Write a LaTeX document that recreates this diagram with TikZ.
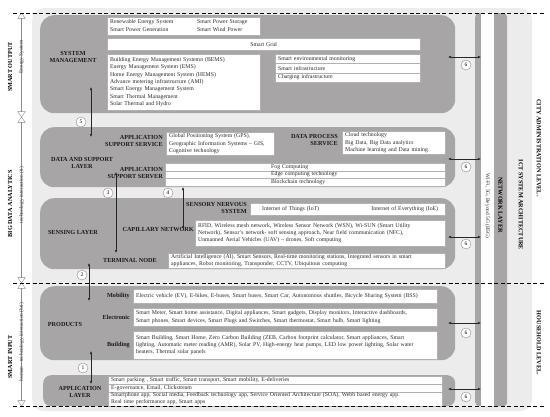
\documentclass[tikz,border=0pt]{standalone}
\usepackage{fontspec}
\setmainfont{Liberation Serif}
\usepackage{xcolor}
\usetikzlibrary{positioning,arrows.meta,shapes.arrows}

\definecolor{laygrey}{HTML}{A8A5A6}
\definecolor{bggrey}{HTML}{ECECEC}
\definecolor{txtgrey}{HTML}{2A2A2A}
\newcommand{\smallfs}{\fontsize{5.8}{7.3}\selectfont}
\newcommand{\labfs}{\fontsize{6.2}{7.6}\selectfont\bfseries}
\newcommand{\sidefs}{\fontsize{5.4}{6}\selectfont}

\begin{document}
\begin{tikzpicture}[x=1pt, y=-1pt,
  panel/.style={rectangle, rounded corners=12pt, fill=bggrey, anchor=north west, inner sep=0pt},
  layer/.style={rectangle, rounded corners=14pt, fill=laygrey, anchor=north west, inner sep=0pt},
  tbox/.style={rectangle, draw=black!30, line width=0.3pt, fill=white, anchor=north west,
               align=left, inner xsep=3pt, inner ysep=0.5pt, font=\smallfs, text=txtgrey},
  lab/.style={font=\labfs, text=black!90, inner sep=0pt},
  side/.style={font=\labfs, rotate=90, inner sep=0pt},
  sidesm/.style={font=\sidefs, text=black!75, rotate=90, inner sep=0pt},
  rside/.style={font=\labfs, rotate=-90, inner sep=0pt},
  rsidesm/.style={font=\sidefs, text=black!80, rotate=-90, inner sep=0pt},
  span/.style={double arrow, draw=black!45, fill=white, line width=0.4pt, rotate=90,
               minimum width=7.5pt, double arrow head extend=2.5pt, double arrow tip angle=70, inner sep=0pt},
  num/.style={circle, draw=black!45, fill=white, line width=0.4pt, minimum size=10pt, inner sep=0pt,
              font=\fontsize{5.5}{6}\selectfont},
  arr/.style={{Latex[length=3pt,width=2.4pt]}-{Latex[length=3pt,width=2.4pt]}, line width=0.45pt, black!85},
  sep/.style={dashed, dash pattern=on 4pt off 2.5pt, line width=1pt},
]
\useasboundingbox (0,0) rectangle (550,416);

\node[panel, minimum width=500, minimum height=403] (bg) at (32,8) {};

% left spans
\node[span, minimum height=104] (spout) at (21.5,65) {};
\node[span, minimum height=166] (spbda) at (21.5,200) {};
\node[span, minimum height=123] (spin)  at (21.5,344.5) {};
\node[side]   (outlab) at (10,67)  {SMART OUTPUT};
\node[side]   (bdalab) at (10,204) {BIG DATA ANALYTICS};
\node[side]   (inlab)  at (10,357) {SMART INPUT};
\node[sidesm] (enlab)  at (21.5,57)  {Energy System};
\node[sidesm] (tilab)  at (21.5,195) {technology interaction (ti)};
\node[sidesm] (htilab) at (21.5,342) {human - technology interaction (hti)};

% layers
\node[layer, minimum width=415, minimum height=98] (sysm) at (40,15)  {};
\node[layer, minimum width=415, minimum height=60] (dsl)  at (40,127) {};
\node[layer, minimum width=415, minimum height=71] (sens) at (40,198) {};
\node[layer, minimum width=415, minimum height=74] (prod) at (40,286) {};
\node[layer, minimum width=412, minimum height=31, rounded corners=8pt] (appl) at (43,375) {};

\node[layer, rounded corners=4pt, minimum width=32, minimum height=393] (net) at (475,13) {};
\node[rectangle, fill=white, anchor=north west, inner sep=0pt, minimum width=13, minimum height=393] (wifi) at (481,13) {};

% system management
\node[tbox, text width=147, minimum height=18] (renew) at (107,17)
  {\begin{tabular}{@{}p{87pt}@{}l@{}}Renewable Energy System & Smart Power Storage\\ Smart Power Generation & Smart Wind Power\end{tabular}};
\node[tbox, text width=307, minimum height=12, align=center] (grid) at (107,38) {Smart Grid};
\node[tbox, text width=147, minimum height=56] (bems) at (107,54)
  {Building Energy Management Systemn (BEMS)\\ Energy Management System (EMS)\\ Home Energy Management System (HEMS)\\
   Advance metering infrastructure (AMI)\\ Smart Energy Management System\\ Smart Thermal Management\\ Solar Thermal and Hydro};
\node[tbox, text width=139, minimum height=9.3] (envm)  at (275,54)   {Smart environmental monitoring};
\node[tbox, text width=139, minimum height=9.3] (infra) at (275,63.3) {Smart infrastructure};
\node[tbox, text width=139, minimum height=9.4] (charg) at (275,72.6) {Charging infrastructure};
\node[lab, align=center] (sysmlab) at (73,57) {SYSTEM\\MANAGEMENT};

% data and support
\node[tbox, text width=102, minimum height=23] (gps) at (166,132)
  {Global Positioning System (GPS),\\ Geographic Information Systems -- GIS,\\ Cognitive technology};
\node[tbox, text width=97, minimum height=23] (cloud) at (342,131)
  {Cloud technology\\ Big Data, Big Data analytics\\ Machine learning and Data mining};
\node[tbox, text width=274, minimum height=7.5] (fog)   at (165,163)   {\hspace*{103pt}Fog Computing};
\node[tbox, text width=274, minimum height=7.5] (edge)  at (165,170.5) {\hspace*{103pt}Edge computing technology};
\node[tbox, text width=274, minimum height=7.5] (block) at (165,178)   {\hspace*{103pt}Blockchain technology};
\node[lab, align=right, anchor=east] (asslab)  at (163,141) {APPLICATION\\SUPPORT SERVICE};
\node[lab, align=right, anchor=east] (dpslab)  at (338,140) {DATA PROCESS\\SERVICE};
\node[lab, align=center]             (dsllab)  at (82,163)  {DATA AND SUPPORT\\LAYER};
\node[lab, align=right, anchor=east] (asrvlab) at (163,173) {APPLICATION\\SUPPORT SERVER};

% sensing
\node[tbox, text width=189, minimum height=12] (iot) at (250,203)
  {\hspace*{9pt}Internet of Things (IoT)\hspace{0pt plus 1filll}Internet of Everything (IoE)\hspace*{4pt}};
\node[tbox, text width=244, minimum height=26] (rfid) at (195,220)
  {RFID, Wireless mesh network, Wireless Sensor Network (WSN), Wi-SUN (Smart Utility\\
   Network), Sensor's network- soft sensing approach, Near field communication (NFC),\\
   Unmanned Aerial Vehicles (UAV) -- drones, Soft computing};
\node[tbox, text width=271, minimum height=15] (ai) at (168,253)
  {Artificial Intelligence (AI), Smart Sensors, Real-time monitoring stations, Integrated sensors in smart\\
   appliances, Robot monitoring, Transponder, CCTV, Ubiquitous computing};
\node[lab]                           (senslab) at (73,232)  {SENSING LAYER};
\node[lab, align=right, anchor=east] (snslab)  at (247,208) {SENSORY NERVOUS\\SYSTEM};
\node[lab, anchor=east]              (caplab)  at (194,229) {CAPILLARY NETWORK};
\node[lab]                           (termlab) at (130,260) {TERMINAL NODE};

% products
\node[tbox, text width=298, minimum height=14] (mob) at (133,289)
  {Electric vehicle (EV), E-bikes, E-buses, Smart buses, Smart Car, Autonomous shuttles, Bicycle Sharing System (BSS)};
\node[tbox, text width=298, minimum height=18] (elec) at (133,308)
  {Smart Meter, Smart home assistance, Digital appliances, Smart gadgets, Display monitors, Interactive dashboards,\\
   Smart phones, Smart devices, Smart Plugs and Switches, Smart thermostat, Smart bulb, Smart lighting};
\node[tbox, text width=298, minimum height=28] (bld) at (133,331)
  {Smart Building, Smart Home, Zero Carbon Building (ZEB, Carbon footprint calculator, Smart appliances, Smart\\
   lighting, Automatic meter reading (AMR), Solar PV, High-energy heat pumps, LED low power lighting, Solar water\\
   heaters, Thermal solar panels};
\node[lab]              (prodlab) at (65,324)  {PRODUCTS};
\node[lab, anchor=east] (moblab)  at (130,296) {Mobility};
\node[lab, anchor=east] (eleclab) at (130,317) {Electronic};
\node[lab, anchor=east] (bldlab)  at (130,345) {Building};

% application layer
\node[tbox, text width=328, minimum height=8]    (app1) at (108,376) {Smart parking , Smart traffic, Smart transport, Smart mobility, E-deliveries};
\node[tbox, text width=328, minimum height=7.5]  (app2) at (108,384) {E-governance, Email, Clickstream};
\node[tbox, text width=328, minimum height=14.5] (app3) at (108,391.5)
  {Smartphone app, Social media, Feedback technology app, Service Oriented Architecture (SOA), Webb based energy app.\\
   Real time performance app, Smart apps};
\node[lab, align=center] (appllab) at (80,392) {APPLICATION\\LAYER};

% right side
\node[rsidesm] (wifilab) at (487.5,206) {Wi-Fi, 5G, Beyond 5G (B5G)};
\node[rside]   (netlab)  at (500.5,205) {NETWORK LAYER};
\node[rside]   (ictlab)  at (521,205)   {ICT SYSTEM ARCHITECTURE};
\node[rside]   (citylab) at (539,148)   {CITY ADMINISTRATION LEVEL.};
\node[rside]   (hhlab)   at (539,343)   {HOUSEHOLD LEVEL.};

% links between layers
\coordinate (a5t) at (91,87);   \coordinate (a5b) at (91,137);
\coordinate (a3t) at (116,172); \coordinate (a3b) at (116,253);
\coordinate (a4t) at (183,187); \coordinate (a4b) at (183,229);
\coordinate (a2t) at (89,263);  \coordinate (a2b) at (89,301);
\coordinate (a1t) at (91,351);  \coordinate (a1b) at (91,384);
\draw[arr] (a5t) -- (a5b);
\draw[arr] (a3t) -- (a3b);
\draw[arr] (a4t) -- (a4b);
\draw[arr] (a2t) -- (a2b);
\draw[arr] (a1t) -- (a1b);
\node[num] (n5) at (81,122) {5};
\node[num] (n3) at (108,193) {3};
\node[num] (n4) at (168,193) {4};
\node[num] (n2) at (82,275) {2};
\node[num] (n1) at (83,368) {1};

% links to network layer
\foreach \y [count=\i] in {57,159,237,323,389} {
  \coordinate (s\i) at (448,\y);
  \draw[arr] (s\i) -- (s\i -| wifi.west);
}
\foreach \y [count=\i] in {65,167,244,333,397}
  \node[num] (six\i) at (466,\y) {6};

% level separators
\draw[sep] (13,13)  -- (545,13);
\draw[sep] (13,283) -- (545,283);
\draw[sep] (13,406) -- (545,406);
\end{tikzpicture}
\end{document}
